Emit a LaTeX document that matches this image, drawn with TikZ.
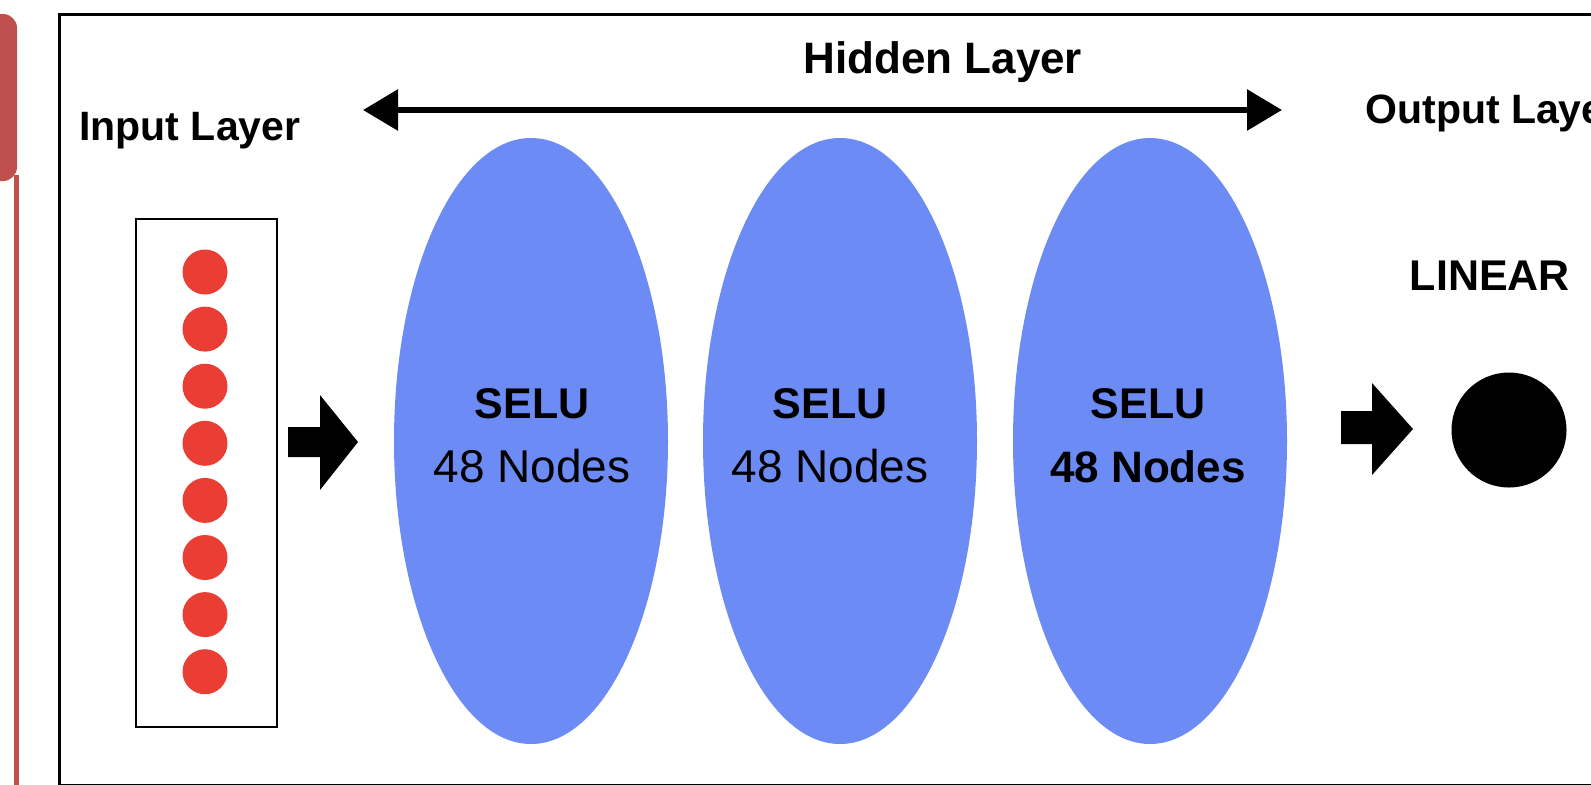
\documentclass[tikz,border=0pt]{standalone}
\usepackage{fontspec}
\setmainfont{Liberation Sans}
\usetikzlibrary{arrows.meta,shapes.geometric}
\definecolor{panelred}{RGB}{192,80,77}
\definecolor{inputred}{RGB}{234,61,52}
\definecolor{layerblue}{RGB}{108,139,245}
\begin{document}
\begin{tikzpicture}[x=0.5pt,y=-0.5pt,
  layer/.style={ellipse, fill=layerblue, minimum width=137pt, minimum height=303pt, inner sep=0},
  dot/.style={circle, fill=inputred, minimum size=22.5pt, inner sep=0},
  title/.style={font=\bfseries\fontsize{20.5}{24}\selectfont, inner sep=0, anchor=base west},
  act/.style={font=\bfseries\fontsize{21.5}{24}\selectfont, inner sep=0, anchor=base},
  count/.style={font=\fontsize{23}{26}\selectfont, inner sep=0, anchor=base},
  blockarrow/.style={fill=black}]
\clip (0,0) rectangle (1591,784);

% neighbouring panel: red header and its side rule
\fill[panelred, rounded corners=7pt] (-40,14) rectangle (17,181);
\draw[panelred, line width=2.3pt] (16.7,175) -- (16.7,800);

% outer frame
\draw[line width=1.5pt] (59,14.5) rectangle (1700,785.8);

% labels
\node[title] (inlbl) at (79,140) {Input Layer};
\node[title, font=\bfseries\fontsize{22}{26}\selectfont] (hidlbl) at (803,73) {Hidden Layer};
\node[title] (outlbl) at (1365,123) {Output Layer};
\node[act] (linlbl) at (1490,290) {LINEAR};

% input layer
\node[draw, line width=1.25pt, minimum width=70.5pt, minimum height=254pt, inner sep=0] (inbox) at (206.4,473) {};
\foreach \i in {0,...,7}
  \node[dot] (in\i) at (205,{272+57.1*\i}) {};

% hidden layers
\node[layer] (h1) at (531,441) {};
\node[layer] (h2) at (840,441) {};
\node[layer] (h3) at (1150,441) {};
\node[act] (h1a) at (532,418) {SELU};
\node[count] (h1n) at (532,482) {48 Nodes};
\node[act] (h2a) at (830,418) {SELU};
\node[count] (h2n) at (830,482) {48 Nodes};
\node[act] (h3a) at (1148,418) {SELU};
\node[count, font=\bfseries\fontsize{22}{26}\selectfont] (h3n) at (1148,482) {48 Nodes};

% span of the hidden layers
\coordinate (spanl) at (363,110);
\coordinate (spanr) at (1282,110);
\draw[line width=3pt, {Triangle[length=17.5pt,width=20pt]}-{Triangle[length=17.5pt,width=20pt]}] (spanl) -- (spanr);

% output node
\node[circle, fill=black, minimum size=57.5pt, inner sep=0] (out) at (1509,430) {};

% block arrows
\fill[blockarrow] (288,427) -- (320,427) -- (320,395) -- (358,442) -- (320,490) -- (320,457) -- (288,457) -- cycle;
\fill[blockarrow] (1341,411) -- (1372,411) -- (1372,383) -- (1413,429) -- (1372,475) -- (1372,444) -- (1341,444) -- cycle;
\end{tikzpicture}
\end{document}
